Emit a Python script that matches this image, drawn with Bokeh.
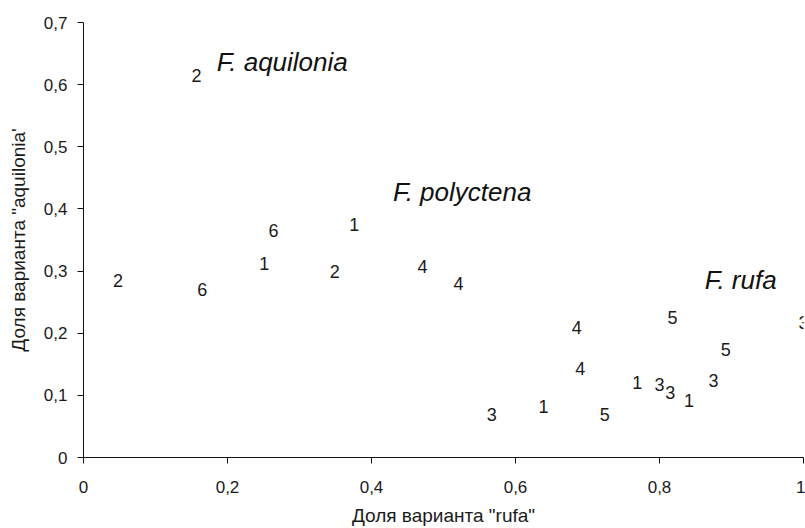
from bokeh.plotting import figure
from bokeh.models import ColumnDataSource, Label, FixedTicker, CustomJSTickFormatter
from bokeh.core.properties import value
from bokeh.embed import file_html
from bokeh.resources import INLINE

# ---- data ----
point_labels = ["2", "2", "6", "1", "6", "1", "2", "4", "4", "4", "5",
                "3", "5", "4", "1", "3", "3", "1", "3", "3", "1", "5"]
share_rufa = [0.157, 0.048, 0.264, 0.251, 0.165, 0.376, 0.349, 0.471, 0.521, 0.685, 0.818,
              1.000, 0.892, 0.690, 0.769, 0.800, 0.815, 0.841, 0.875, 0.567, 0.639, 0.724]
share_aquilonia = [0.615, 0.285, 0.366, 0.312, 0.271, 0.375, 0.300, 0.307, 0.280, 0.210, 0.226,
                   0.218, 0.173, 0.144, 0.121, 0.117, 0.105, 0.091, 0.124, 0.069, 0.082, 0.069]

species_names = ["F. aquilonia", "F. polyctena", "F. rufa"]
species_x = [0.185, 0.430, 0.863]
species_y = [0.636, 0.427, 0.285]

x_tick_values = [0, 0.2, 0.4, 0.6, 0.8, 1.0]
x_tick_labels = ["0", "0,2", "0,4", "0,6", "0,8", "1"]
y_tick_values = [0, 0.1, 0.2, 0.3, 0.4, 0.5, 0.6, 0.7]
y_tick_labels = ["0", "0,1", "0,2", "0,3", "0,4", "0,5", "0,6", "0,7"]

x_title = 'Доля варианта "rufa"'
y_title = 'Доля варианта "aquilonia\''

FONT = "Liberation Sans"
INK = "#1a1a1a"

p = figure(width=805, height=528, x_range=(0, 1), y_range=(0, 0.7),
           output_backend="svg", toolbar_location=None,
           min_border_left=83, min_border_right=2, min_border_top=22, min_border_bottom=71)
p.outline_line_color = None
p.xgrid.visible = False
p.ygrid.visible = False
p.background_fill_color = "white"
p.border_fill_color = "white"

fmt_code = """
for (let i = 0; i < vals.length; i++) {
  if (Math.abs(vals[i] - tick) < 1e-9) { return labs[i]; }
}
return "";
"""
p.xaxis.ticker = FixedTicker(ticks=x_tick_values)
p.xaxis.formatter = CustomJSTickFormatter(args=dict(vals=x_tick_values, labs=x_tick_labels), code=fmt_code)
p.yaxis.ticker = FixedTicker(ticks=y_tick_values)
p.yaxis.formatter = CustomJSTickFormatter(args=dict(vals=y_tick_values, labs=y_tick_labels), code=fmt_code)

for ax in (p.xaxis, p.yaxis):
    ax.axis_line_color = "#111111"
    ax.axis_line_width = 1
    ax.major_tick_line_color = "#111111"
    ax.major_tick_in = 0
    ax.major_tick_out = 6
    ax.minor_tick_line_color = None
    ax.major_label_text_font = FONT
    ax.major_label_text_font_size = "17px"
    ax.major_label_text_color = INK
    ax.axis_label_text_font = FONT
    ax.axis_label_text_font_size = "19px"
    ax.axis_label_text_font_style = "normal"
    ax.axis_label_text_color = INK

p.xaxis.axis_label = x_title
p.yaxis.axis_label = y_title
p.xaxis.major_label_standoff = 17
p.xaxis.axis_label_standoff = 9
p.yaxis.major_label_standoff = 10
p.yaxis.axis_label_standoff = 12

src = ColumnDataSource(data=dict(x=share_rufa, y=share_aquilonia, t=point_labels))
p.text(x="x", y="y", text="t", source=src, text_font=value(FONT), text_font_size="18px",
       text_align="center", text_baseline="middle", text_color=INK)

for name, sx, sy in zip(species_names, species_x, species_y):
    p.add_layout(Label(x=sx, y=sy, text=name, text_font=FONT, text_font_size="26px",
                       text_font_style="italic", text_color="#111111",
                       text_baseline="alphabetic", text_align="left"))

open("out.html", "w").write(file_html(p, INLINE))
